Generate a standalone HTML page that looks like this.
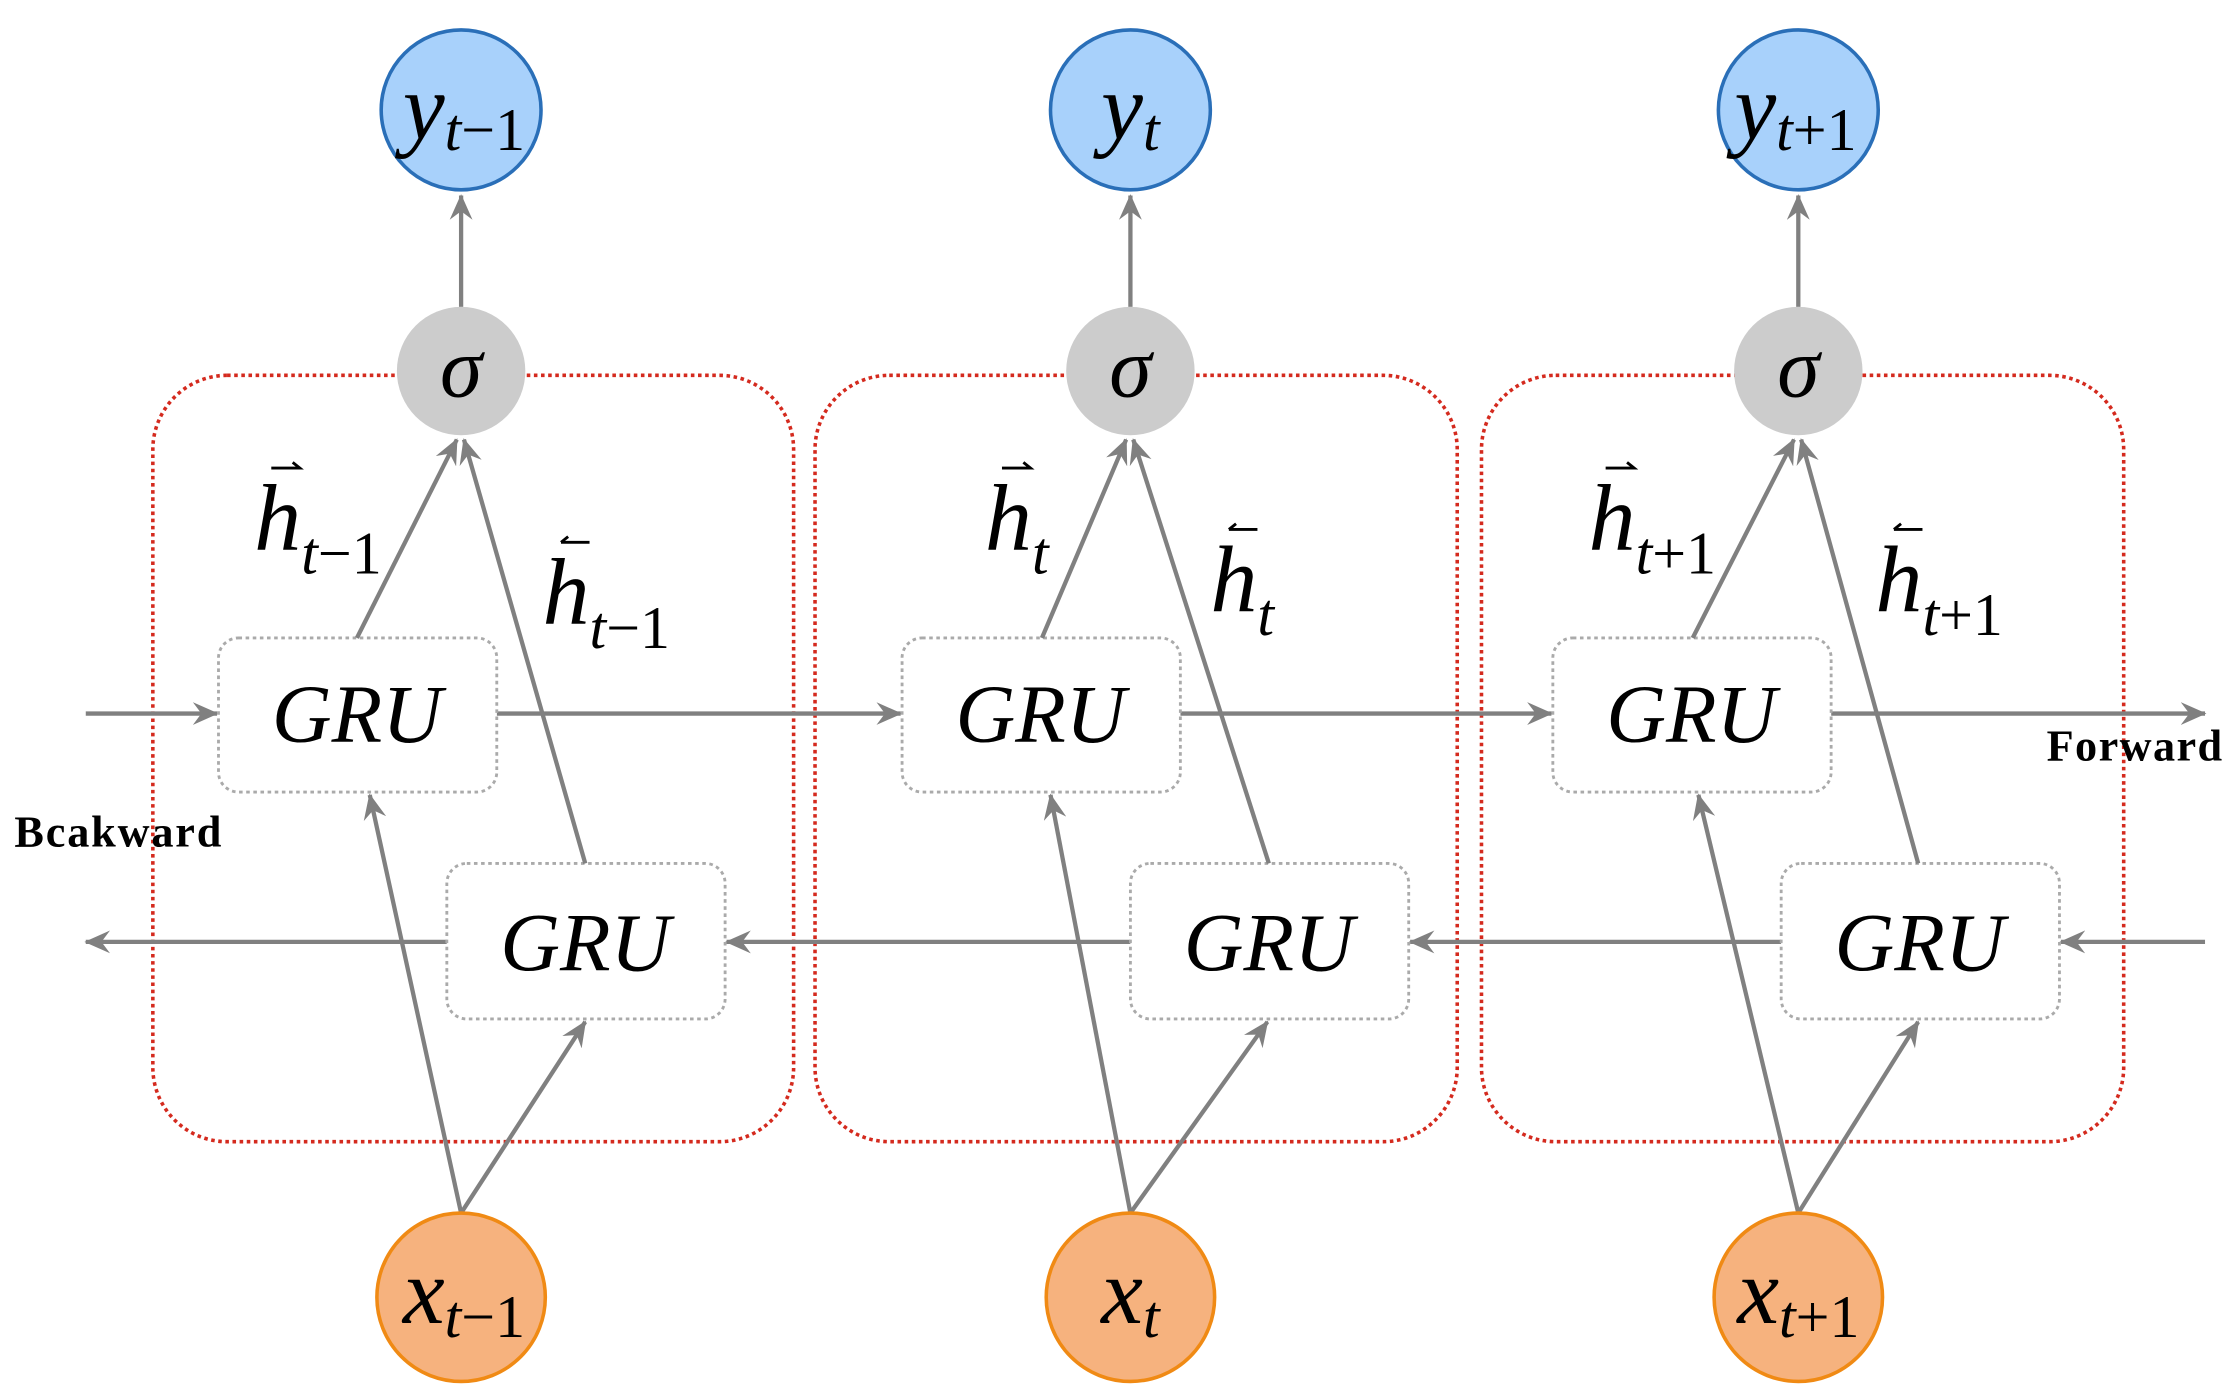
<!DOCTYPE html>
<html><head><meta charset="utf-8"><style>
html,body{margin:0;padding:0;background:#fff;}
svg{display:block;}
text{font-family:"Liberation Serif",serif;}
.it{font-style:italic;}
</style></head><body>
<svg width="2238" height="1400" viewBox="0 0 1568 981" xmlns="http://www.w3.org/2000/svg">
<defs>
<marker id="a" viewBox="0 0 18 16" refX="17" refY="8" markerWidth="18" markerHeight="16" markerUnits="userSpaceOnUse" orient="auto">
<path d="M0,0 L18,8 L0,16 L6,8 Z" fill="#808080"/>
</marker>
</defs>
<g fill="none" stroke="#d42a1e" stroke-width="2.5" stroke-dasharray="2.5,2.5">
<rect x="107" y="263" width="449" height="537" rx="52"/>
<rect x="571" y="263" width="450" height="537" rx="52"/>
<rect x="1038" y="263" width="450" height="537" rx="52"/>
</g>
<g stroke="#808080" stroke-width="3" fill="none" marker-end="url(#a)">
<line x1="60" y1="500" x2="152" y2="500"/>
<line x1="348" y1="500" x2="631" y2="500"/>
<line x1="827" y1="500" x2="1087" y2="500"/>
<line x1="1283" y1="500" x2="1545" y2="500"/>
<line x1="1545" y1="660" x2="1444" y2="660"/>
<line x1="1248" y1="660" x2="988" y2="660"/>
<line x1="792" y1="660" x2="509" y2="660"/>
<line x1="313" y1="660" x2="60" y2="660"/>
</g>
<g fill="#fff" stroke="#aaa" stroke-width="2" stroke-dasharray="2.5,2.5">
<rect x="153" y="447" width="195" height="108" rx="14"/>
<rect x="313" y="605" width="195" height="109" rx="14"/>
<rect x="632" y="447" width="195" height="108" rx="14"/>
<rect x="792" y="605" width="195" height="109" rx="14"/>
<rect x="1088" y="447" width="195" height="108" rx="14"/>
<rect x="1248" y="605" width="195" height="109" rx="14"/>
</g>
<g stroke="#808080" stroke-width="3" fill="none" marker-end="url(#a)">
<line x1="250" y1="447" x2="320" y2="308"/>
<line x1="410" y1="605" x2="325" y2="308"/>
<line x1="323" y1="850" x2="259" y2="557"/>
<line x1="323" y1="850" x2="410" y2="716"/>
<line x1="323" y1="215" x2="323" y2="137"/>
<line x1="730" y1="447" x2="789" y2="308"/>
<line x1="889" y1="605" x2="794" y2="308"/>
<line x1="792" y1="850" x2="736" y2="557"/>
<line x1="792" y1="850" x2="888" y2="716"/>
<line x1="792" y1="215" x2="792" y2="137"/>
<line x1="1186" y1="447" x2="1257" y2="308"/>
<line x1="1344" y1="605" x2="1262" y2="308"/>
<line x1="1260" y1="850" x2="1190" y2="557"/>
<line x1="1260" y1="850" x2="1344" y2="716"/>
<line x1="1260" y1="215" x2="1260" y2="137"/>
</g>
<g fill="#cccccc">
<circle cx="323" cy="260" r="45"/><circle cx="792" cy="260" r="45"/><circle cx="1260" cy="260" r="45"/>
</g>
<g fill="#a8d1fb" stroke="#2a6fb8" stroke-width="2.5">
<circle cx="323" cy="77" r="56"/><circle cx="792" cy="77" r="56"/><circle cx="1260" cy="77" r="56"/>
</g>
<g fill="#f6b27e" stroke="#f08a14" stroke-width="2.5">
<circle cx="323" cy="909" r="59"/><circle cx="792" cy="909" r="59"/><circle cx="1260" cy="909" r="59"/>
</g>
<g font-size="58" text-anchor="middle" class="it">
<text x="250" y="520">GRU</text><text x="410" y="680">GRU</text>
<text x="729" y="520">GRU</text><text x="889" y="680">GRU</text>
<text x="1185" y="520">GRU</text><text x="1345" y="680">GRU</text>
<text x="323" y="278" font-size="60">σ</text><text x="792" y="278" font-size="60">σ</text><text x="1260" y="278" font-size="60">σ</text>
</g>
<g text-anchor="middle">
<text x="325" y="97"><tspan class="it" font-size="66">y</tspan><tspan class="it" font-size="42" dy="8">t</tspan><tspan font-size="42">−1</tspan></text>
<text x="792" y="97"><tspan class="it" font-size="66">y</tspan><tspan class="it" font-size="42" dy="8">t</tspan></text>
<text x="1258" y="97"><tspan class="it" font-size="66">y</tspan><tspan class="it" font-size="42" dy="8">t</tspan><tspan font-size="42">+1</tspan></text>
<text x="325" y="927"><tspan class="it" font-size="66">x</tspan><tspan class="it" font-size="42" dy="10">t</tspan><tspan font-size="42">−1</tspan></text>
<text x="792" y="927"><tspan class="it" font-size="66">x</tspan><tspan class="it" font-size="42" dy="10">t</tspan></text>
<text x="1260" y="927"><tspan class="it" font-size="66">x</tspan><tspan class="it" font-size="42" dy="10">t</tspan><tspan font-size="42">+1</tspan></text>
</g>
<g>
<text x="178" y="385"><tspan class="it" font-size="66">h</tspan><tspan class="it" font-size="42" dy="17">t</tspan><tspan font-size="42">−1</tspan></text>
<text x="690" y="385"><tspan class="it" font-size="66">h</tspan><tspan class="it" font-size="42" dy="17">t</tspan></text>
<text x="1113" y="385"><tspan class="it" font-size="66">h</tspan><tspan class="it" font-size="42" dy="17">t</tspan><tspan font-size="42">+1</tspan></text>
<text x="380" y="437"><tspan class="it" font-size="66">h</tspan><tspan class="it" font-size="42" dy="17">t</tspan><tspan font-size="42">−1</tspan></text>
<text x="848" y="428"><tspan class="it" font-size="66">h</tspan><tspan class="it" font-size="42" dy="17">t</tspan></text>
<text x="1314" y="428"><tspan class="it" font-size="66">h</tspan><tspan class="it" font-size="42" dy="17">t</tspan><tspan font-size="42">+1</tspan></text>
</g>
<g stroke="#000" stroke-width="2" fill="none">
<path d="M190,328 H210 l-5,-4"/><path d="M702,328 H722 l-5,-4"/><path d="M1125,328 H1145 l-5,-4"/>
<path d="M393,380 H413 M393,380 l5,-4"/><path d="M861,371 H881 M861,371 l5,-4"/><path d="M1327,371 H1347 M1327,371 l5,-4"/>
</g>
<text x="1434" y="533" font-size="31" font-weight="bold" textLength="123">Forward</text>
<text x="10" y="593" font-size="31" font-weight="bold" textLength="145">Bcakward</text>
</svg>
</body></html>
